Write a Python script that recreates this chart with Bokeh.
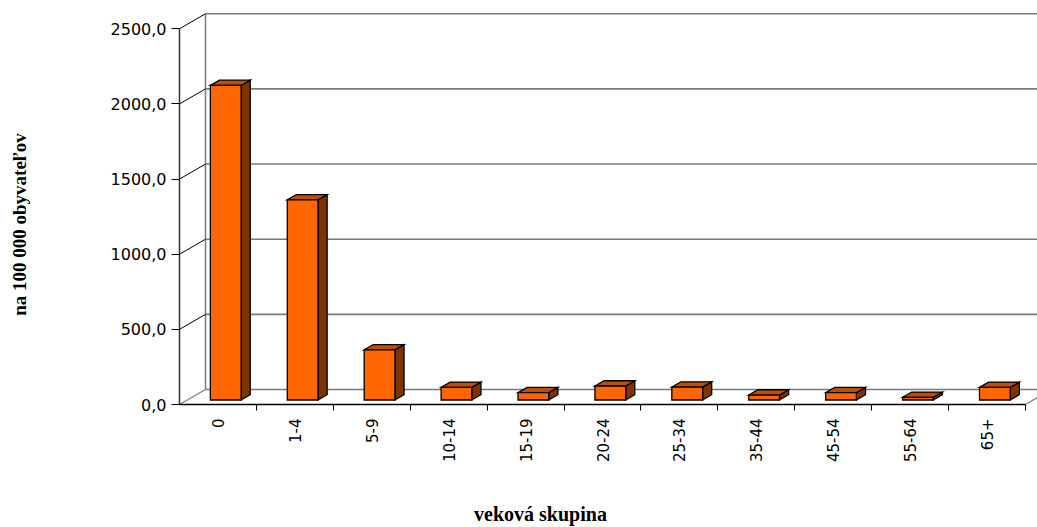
import numpy as np
from bokeh.plotting import figure
from bokeh.models import FixedTicker, Range1d, Label
from bokeh.embed import file_html
from bokeh.resources import INLINE

# ---- data ----
categories = ["0", "1-4", "5-9", "10-14", "15-19", "20-24", "25-34", "35-44", "45-54", "55-64", "65+"]
values = [2093, 1332, 334, 84, 49, 93, 86, 33, 49, 18, 84]
y_ticks = [0, 500, 1000, 1500, 2000, 2500]
y_tick_labels = ["0,0", "500,0", "1000,0", "1500,0", "2000,0", "2500,0"]
x_title = "veková skupina"
y_title = "na 100 000 obyvateľov"

# ---- layout / 3D look parameters ----
W, H = 1037, 527
PX_X = 76.91     # pixels per category
PX_Y = 0.15028   # pixels per value unit
ORIG_X, ORIG_Y = 179, 404   # pixel position of the front axis origin
DX = 0.338      # depth shift (category units)
DY = 100.0      # depth shift (value units)
F0, F1 = 0.30, 0.65   # bar depth placement
BAR_W = 0.40
YMAX = y_ticks[-1]
N = len(categories)

FRONT = "#FF6600"
TOP = "#BD4F00"
SIDE = "#7F3300"
GRAY = "#808080"
TICK_FONT = "DejaVu Sans"
TITLE_FONT = "Liberation Serif"

x0 = -0.5
x1 = N - 0.5
xs_start = x0 - ORIG_X / PX_X
ys_start = -(H - ORIG_Y) / PX_Y

p = figure(width=W, height=H, output_backend="svg", toolbar_location=None,
           x_range=Range1d(xs_start, xs_start + W / PX_X),
           y_range=Range1d(ys_start, ys_start + H / PX_Y),
           min_border_left=0, min_border_right=0, min_border_top=0, min_border_bottom=0)
p.outline_line_color = None
p.grid.grid_line_color = None
p.background_fill_color = "white"
p.border_fill_color = "white"

# back wall gridlines (including 0 and top)
gx0, gx1, gy = [], [], []
for t in y_ticks:
    gx0.append(x0 + DX); gx1.append(x1 + 1.0); gy.append(t + DY)
p.segment(x0=gx0, y0=gy, x1=gx1, y1=gy, line_color="#7A7A7A", line_width=1.6)
# back wall left edge
p.segment(x0=[x0 + DX], y0=[DY], x1=[x0 + DX], y1=[YMAX + DY], line_color=GRAY, line_width=1.6)
# floor diagonals
p.segment(x0=[x0, x1], y0=[0, 0], x1=[x0 + DX, x1 + DX], y1=[DY, DY], line_color=GRAY, line_width=1.3)
# tick diagonals to back wall
dt = y_ticks[1:]
p.segment(x0=[x0] * len(dt), y0=dt, x1=[x0 + DX] * len(dt), y1=[t + DY for t in dt],
          line_color="black", line_width=1)
# front axis line and floor front line
p.segment(x0=[x0], y0=[0], x1=[x0], y1=[YMAX], line_color="#333333", line_width=1.5)
p.segment(x0=[x0], y0=[0], x1=[x1], y1=[0], line_color="black", line_width=1.3)

# bars
dd = (F1 - F0) * DX
ddy = (F1 - F0) * DY
lefts, rights, bottoms, tops = [], [], [], []
top_xs, top_ys, side_xs, side_ys = [], [], [], []
for i, v in enumerate(values):
    xl = i - BAR_W / 2 + F0 * DX
    xr = i + BAR_W / 2 + F0 * DX
    yb = F0 * DY
    yt = v + F0 * DY
    lefts.append(xl); rights.append(xr); bottoms.append(yb); tops.append(yt)
    top_xs.append([xl, xr, xr + dd, xl + dd]); top_ys.append([yt, yt, yt + ddy, yt + ddy])
    side_xs.append([xr, xr + dd, xr + dd, xr]); side_ys.append([yb, yb + ddy, yt + ddy, yt])

p.patches(xs=side_xs, ys=side_ys, fill_color=SIDE, line_color="black", line_width=1.3, line_join="miter")
p.patches(xs=top_xs, ys=top_ys, fill_color=TOP, line_color="black", line_width=1.3, line_join="miter")
p.quad(left=lefts, right=rights, bottom=bottoms, top=tops, fill_color=FRONT,
       line_color="black", line_width=1.3, line_join="miter")

# y axis (drawn at the front axis position)
ya = p.yaxis[0]
ya.fixed_location = x0
ya.ticker = FixedTicker(ticks=y_ticks, minor_ticks=[])
ya.major_label_overrides = dict(zip(y_ticks, y_tick_labels))
ya.axis_line_color = None
ya.major_tick_out = 8
ya.major_tick_in = 0
ya.minor_tick_out = 0
ya.minor_tick_in = 0
ya.major_tick_line_color = "black"
ya.major_tick_line_width = 1
ya.major_label_standoff = 5
ya.major_label_text_font = TICK_FONT
ya.major_label_text_font_size = "16px"
ya.major_label_text_color = "black"

# x axis (drawn at value 0)
xa = p.xaxis[0]
xa.fixed_location = 0
xa.ticker = FixedTicker(ticks=list(range(N)), minor_ticks=[i + 0.5 for i in range(N)])
xa.major_label_overrides = {i: c for i, c in enumerate(categories)}
xa.axis_line_color = None
xa.major_tick_out = 0
xa.major_tick_in = 0
xa.minor_tick_out = 6
xa.minor_tick_in = 0
xa.minor_tick_line_color = "black"
xa.minor_tick_line_width = 1
xa.major_label_orientation = np.pi / 2
xa.major_label_standoff = 8
xa.major_label_text_font = TICK_FONT
xa.major_label_text_font_size = "15px"
xa.major_label_text_color = "black"

# axis titles
p.add_layout(Label(x=x0 + (540 - ORIG_X) / PX_X, y=(ORIG_Y - 513) / PX_Y, text=x_title,
                   text_align="center", text_baseline="middle", text_font=TITLE_FONT,
                   text_font_style="bold", text_font_size="20px", text_color="black"))
p.add_layout(Label(x=x0 + (19 - ORIG_X) / PX_X, y=(ORIG_Y - 224) / PX_Y, text=y_title,
                   angle=np.pi / 2, text_align="center", text_baseline="middle",
                   text_font=TITLE_FONT, text_font_style="bold", text_font_size="19px",
                   text_color="black"))

open("out.html", "w").write(file_html(p, INLINE))
